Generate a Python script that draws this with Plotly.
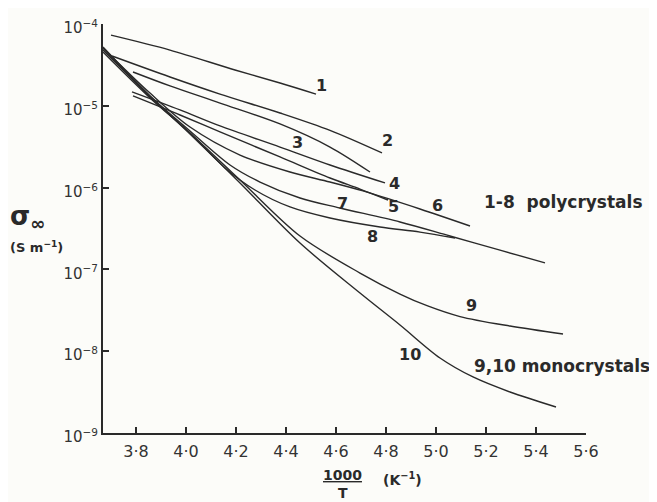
import plotly.graph_objects as go

# ---- data (x = 1000/T in K^-1, y = sigma_inf in S m^-1) ----
x1 = [3.70, 3.936, 4.196, 4.376, 4.52]
y1 = [7.3e-5, 4.8e-5, 2.74e-5, 1.90e-5, 1.39e-5]

x2 = [3.704, 3.936, 4.136, 4.376, 4.576, 4.784]
y2 = [4.06e-5, 2.25e-5, 1.39e-5, 8.16e-6, 5.0e-6, 2.65e-6]

x3 = [3.788, 3.936, 4.136, 4.376, 4.576, 4.736]
y3 = [2.59e-5, 1.75e-5, 1.08e-5, 6.0e-6, 3.13e-6, 1.55e-6]

x4 = [3.784, 3.976, 4.136, 4.376, 4.576, 4.796]
y4 = [1.48e-5, 8.9e-6, 5.67e-6, 3.13e-6, 1.89e-6, 1.14e-6]

x5 = [3.788, 3.976, 4.136, 4.376, 4.576, 4.696, 4.808]
y5 = [1.32e-5, 7.72e-6, 4.79e-6, 2.37e-6, 1.31e-6, 9.6e-7, 7.05e-7]

x6 = [3.668, 3.856, 4.016, 4.216, 4.416, 4.576, 4.708, 4.936, 5.136]
y6 = [5.1e-5, 1.43e-5, 5.5e-6, 2.5e-6, 1.55e-6, 1.17e-6, 9.1e-7, 5.47e-7, 3.39e-7]

x7 = [3.668, 3.856, 4.016, 4.176, 4.296, 4.456, 4.616, 4.856, 5.056, 5.256, 5.436]
y7 = [4.81e-5, 1.32e-5, 4.92e-6, 1.89e-6, 1.17e-6, 7.46e-7, 5.63e-7, 3.8e-7, 2.56e-7, 1.72e-7, 1.2e-7]

x8 = [3.668, 3.856, 4.016, 4.156, 4.276, 4.416, 4.576, 4.776, 4.936, 5.076]
y8 = [4.55e-5, 1.25e-5, 4.65e-6, 1.74e-6, 9.35e-7, 5.8e-7, 4.25e-7, 3.3e-7, 2.86e-7, 2.42e-7]

x9 = [3.668, 3.856, 4.016, 4.216, 4.456, 4.696, 4.856, 4.964, 5.096, 5.296, 5.508]
y9 = [5.09e-5, 1.28e-5, 4.65e-6, 1.24e-6, 2.56e-7, 9.03e-8, 5.0e-8, 3.6e-8, 2.65e-8, 2.03e-8, 1.62e-8]

x10 = [3.668, 3.856, 4.016, 4.204, 4.456, 4.696, 4.856, 5.016, 5.148, 5.296, 5.48]
y10 = [5.24e-5, 1.32e-5, 4.52e-6, 1.24e-6, 2.1e-7, 5.14e-8, 2.09e-8, 8.26e-9, 4.84e-9, 3.17e-9, 2.08e-9]

series = [(x1, y1), (x2, y2), (x3, y3), (x4, y4), (x5, y5),
          (x6, y6), (x7, y7), (x8, y8), (x9, y9), (x10, y10)]

# curve label text and their positions (x, log10 y)
curve_labels = ["1", "2", "3", "4", "5", "6", "7", "8", "9", "10"]
label_x = [4.54, 4.804, 4.444, 4.832, 4.828, 5.004, 4.624, 4.744, 5.14, 4.896]
label_logy = [-4.746, -5.430, -5.443, -5.944, -6.225, -6.213, -6.189, -6.592, -7.447, -8.046]

x_tickvals = [3.8, 4.0, 4.2, 4.4, 4.6, 4.8, 5.0, 5.2, 5.4, 5.6]
x_ticktext = ["3·8", "4·0", "4·2", "4·4", "4·6", "4·8", "5·0", "5·2", "5·4", "5·6"]
y_tickvals = [1e-9, 1e-8, 1e-7, 1e-6, 1e-5, 1e-4]
y_ticktext = ["10<sup>−9</sup>", "10<sup>−8</sup>", "10<sup>−7</sup>",
              "10<sup>−6</sup>", "10<sup>−5</sup>", "10<sup>−4</sup>"]

INK = "#2a2a2a"
FONT = "DejaVu Sans"

fig = go.Figure()
for xs, ys in series:
    fig.add_trace(go.Scatter(x=xs, y=ys, mode="lines",
                             line=dict(color=INK, width=1.4, shape="spline", smoothing=0.9),
                             showlegend=False, hoverinfo="skip"))


def note(x, y, text, size, xref="paper", yref="paper"):
    return dict(x=x, y=y, xref=xref, yref=yref, text=text, showarrow=False,
                xanchor="center", yanchor="middle",
                font=dict(family=FONT, size=size, color=INK))


annotations = [note(lx, ly, "<b>" + t + "</b>", 16, "x", "y")
               for t, lx, ly in zip(curve_labels, label_x, label_logy)]

annotations += [
    note(0.953, 0.565, "<b>1-8  polycrystals</b>", 17),
    note(0.951, 0.164, "<b>9,10 monocrystals</b>", 17),
    note(0.495, -0.103, "<b><u>1000</u></b>", 14),
    note(0.497, -0.146, "<b>T</b>", 14),
    note(0.621, -0.112, "<b>(K<sup>−1</sup>)</b>", 14),
    note(-0.157, 0.528, "<b>σ<sub>∞</sub></b>", 26),
    note(-0.137, 0.455, "<b>(S m<sup>−1</sup>)</b>", 13),
]

fig.update_layout(
    width=649, height=494,
    margin=dict(l=95, r=71, t=16, b=69, autoexpand=False),
    paper_bgcolor="#fcfcf9", plot_bgcolor="#fcfcf9",
    annotations=annotations,
    showlegend=False,
)
fig.update_xaxes(range=[3.668, 5.6], tickvals=x_tickvals, ticktext=x_ticktext,
                 showline=True, linecolor=INK, linewidth=2, ticks="inside",
                 ticklen=6, tickwidth=1.5, tickcolor=INK, showgrid=False, zeroline=False,
                 ticklabelstandoff=3,
                 tickfont=dict(family=FONT, size=16, color="#333333"))
fig.update_yaxes(type="log", range=[-9, -4], tickvals=y_tickvals, ticktext=y_ticktext,
                 showline=True, linecolor=INK, linewidth=2, ticks="inside",
                 ticklen=6, tickwidth=1.5, tickcolor=INK, showgrid=False, zeroline=False,
                 ticklabelshift=4,
                 tickfont=dict(family=FONT, size=15, color="#333333"))

fig.write_html("out.html")
